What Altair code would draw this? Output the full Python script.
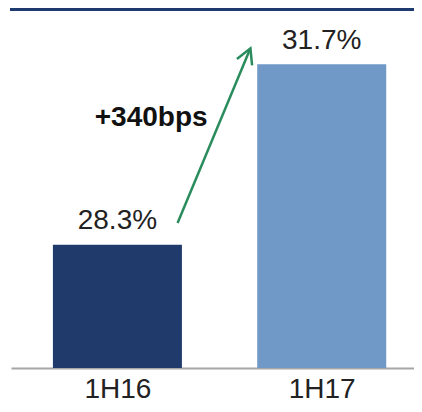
import altair as alt
import pandas as pd

# ---- data ----
categories = ["1H16", "1H17"]
positions = [0, 1]
margins = [28.3, 31.7]
value_labels = ["28.3%", "31.7%"]

change_label = ["+340bps"]
change_label_x = [0.165]
change_label_y = [30.53]

arrow_x = [0.2945]
arrow_y = [28.71]
arrow_x2 = [0.651]
arrow_y2 = [32.0]

bar_colors = ["#213a6c", "#7199c8"]
green = "#2a8c5c"
font = "Liberation Sans"

bars_df = pd.DataFrame({"pos": positions, "cat": categories,
                        "value": margins, "label": value_labels})
note_df = pd.DataFrame({"x": change_label_x, "y": change_label_y, "text": change_label})
arrow_df = pd.DataFrame({"x": arrow_x, "y": arrow_y, "x2": arrow_x2, "y2": arrow_y2})

xscale = alt.Scale(domain=[-0.4964, 1.4272], nice=False, zero=False)
yscale = alt.Scale(domain=[25.98, 32.76], nice=False, zero=False, clamp=True)

label_expr = "datum.value == 0 ? '" + categories[0] + "' : '" + categories[1] + "'"

xaxis = alt.Axis(values=positions, labelExpr=label_expr, title=None,
                 grid=False, ticks=False, domainColor="#a6a6a6",
                 domainWidth=2, labelFontSize=28, labelFont=font,
                 labelColor="#222222", labelBaseline="alphabetic",
                 labelPadding=29, labelFlush=False, labelOverlap=False)

base = alt.Chart(bars_df)

bars = base.mark_bar(size=129).encode(
    x=alt.X("pos:Q", scale=xscale, axis=xaxis),
    y=alt.Y("value:Q", scale=yscale, axis=None),
    color=alt.Color("cat:N", scale=alt.Scale(domain=categories, range=bar_colors),
                    legend=None),
)

labels = base.mark_text(fontSize=28, font=font, color="#222222",
                        baseline="alphabetic", dy=-15.5).encode(
    x=alt.X("pos:Q", scale=xscale, axis=xaxis),
    y=alt.Y("value:Q", scale=yscale, axis=None),
    text="label:N",
)

note = alt.Chart(note_df).mark_text(fontSize=28, font=font, fontWeight="bold",
                                    color="#111111", baseline="alphabetic").encode(
    x=alt.X("x:Q", scale=xscale, axis=xaxis),
    y=alt.Y("y:Q", scale=yscale, axis=None),
    text="text:N",
)

shaft = alt.Chart(arrow_df).mark_rule(color=green, strokeWidth=2.5).encode(
    x=alt.X("x:Q", scale=xscale, axis=xaxis),
    y=alt.Y("y:Q", scale=yscale, axis=None),
    x2="x2:Q",
    y2="y2:Q",
)

head = alt.Chart(arrow_df).mark_point(
    shape="M -0.55 1 L 0 0 L 0.55 1", filled=False, strokeWidth=2.5,
    size=900, angle=23.2, color=green, opacity=1,
).encode(
    x=alt.X("x2:Q", scale=xscale, axis=xaxis),
    y=alt.Y("y2:Q", scale=yscale, axis=None),
)

top_line = alt.Chart(pd.DataFrame({"a": [0]})).mark_rule(
    color="#1f3a6e", strokeWidth=3).encode(
    x=alt.value(-1), x2=alt.value(403), y=alt.value(1.5))

chart = alt.layer(bars, labels, note, shaft, head, top_line).properties(
    width=403, height=360,
    background="white",
    autosize=alt.AutoSizeParams(type="none"),
    padding={"left": 3, "top": 0, "right": 0, "bottom": 36},
).configure_view(stroke=None)

chart.save("out.html", embed_options={"renderer": "svg", "actions": False})
